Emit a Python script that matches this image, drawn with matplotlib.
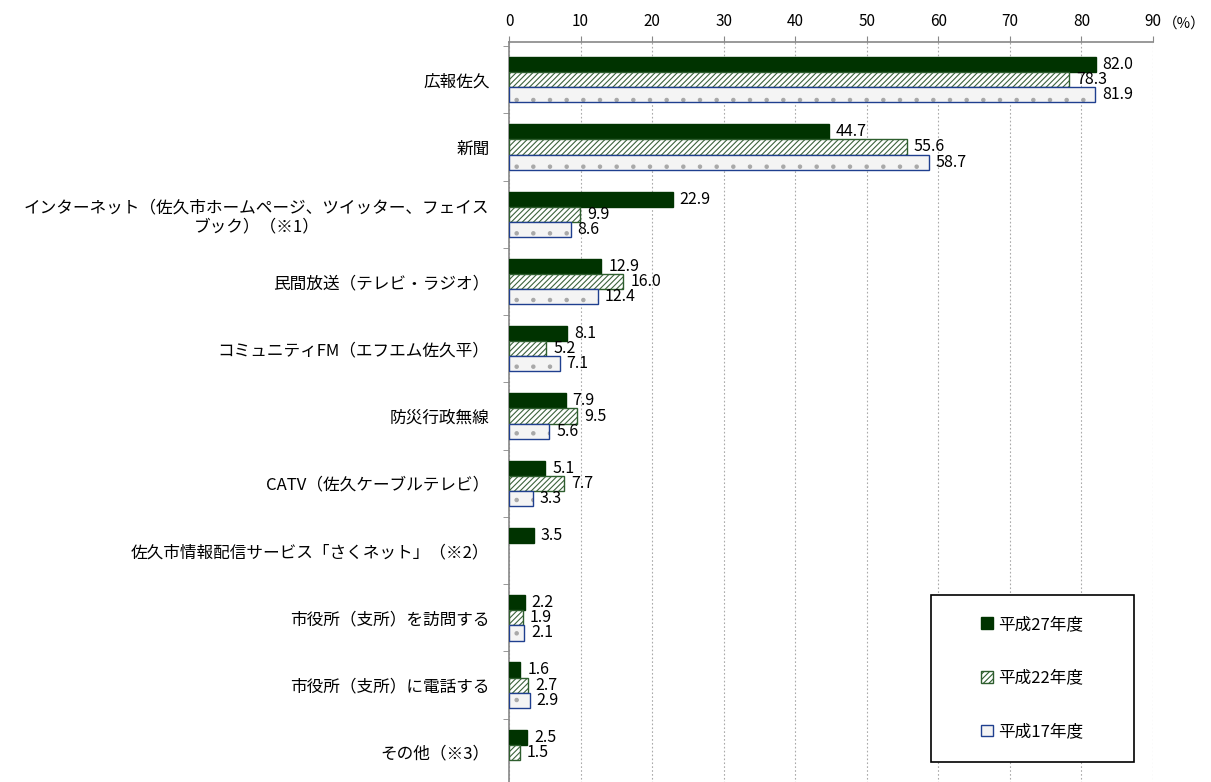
import numpy as np
import matplotlib
matplotlib.use("Agg")
import matplotlib.pyplot as plt
from matplotlib.patches import Patch, Rectangle

plt.rcParams['font.family'] = ['Noto Sans CJK JP', 'DejaVu Sans']
plt.rcParams['hatch.linewidth'] = 0.8

categories = [
    "広報佐久",
    "新聞",
    "インターネット（佐久市ホームページ、ツイッター、フェイス\nブック）（※1）",
    "民間放送（テレビ・ラジオ）",
    "コミュニティFM（エフエム佐久平）",
    "防災行政無線",
    "CATV（佐久ケーブルテレビ）",
    "佐久市情報配信サービス「さくネット」（※2）",
    "市役所（支所）を訪問する",
    "市役所（支所）に電話する",
    "その他（※3）",
]
h27 = [82.0, 44.7, 22.9, 12.9, 8.1, 7.9, 5.1, 3.5, 2.2, 1.6, 2.5]
h22 = [78.3, 55.6, 9.9, 16.0, 5.2, 9.5, 7.7, None, 1.9, 2.7, 1.5]
h17 = [81.9, 58.7, 8.6, 12.4, 7.1, 5.6, 3.3, None, 2.1, 2.9, None]
series_names = ["平成27年度", "平成22年度", "平成17年度"]

# fill, hatch colour, hatch, outline
styles = [
    dict(face="#003300", hcol="#003300", hatch=None, edge="#003300"),
    dict(face="white", hcol="#3D633D", hatch="//////", edge="#2E5E2E"),
    dict(face="#F4F4F4", hcol="#A8A8A8", hatch=".", edge="#1F3F8F"),
]

W, H = 1211, 782
fig = plt.figure(figsize=(W / 100, H / 100), dpi=100)
# plot area: x 509..1153 px, y 42..786 px
ax = fig.add_axes([509 / W, 1 - 786 / H, (1153 - 509) / W, (786 - 42) / H])

n = len(categories)
y = np.arange(n)
bh = 0.225
offsets = [-bh, 0, bh]

for vals, off, st in zip((h27, h22, h17), offsets, styles):
    for i, v in enumerate(vals):
        if v is None:
            continue
        # fill + hatch, then outline on top so hatch colour differs from edge
        ax.barh(y[i] + off, v, height=bh, facecolor=st["face"],
                edgecolor=st["hcol"], hatch=st["hatch"], linewidth=0, zorder=3)
        ax.barh(y[i] + off, v, height=bh, facecolor="none",
                edgecolor=st["edge"], linewidth=1.0, zorder=3)
        ax.annotate(f"{v:.1f}", (v, y[i] + off), xytext=(5, 0),
                    textcoords="offset points", va="center", ha="left",
                    fontsize=11.5, zorder=4)

ax.set_ylim(n - 0.5, -0.56)
ax.set_xlim(0, 90)
ax.set_xticks(np.arange(0, 91, 10))
ax.xaxis.tick_top()
ax.tick_params(axis="x", direction="out", length=4, color="#888888",
               labelsize=11, pad=5)
ax.grid(axis="x", linestyle=(0, (1.5, 2)), color="#AAAAAA", linewidth=0.8, zorder=0)

ax.set_yticks(y)
ax.set_yticklabels(categories, fontsize=12, multialignment="center")
ax.tick_params(axis="y", length=0, pad=14)
ax.set_yticks(np.arange(-0.5, n, 1), minor=True)
ax.tick_params(axis="y", which="minor", length=4, color="#888888")

for s in ("right", "bottom"):
    ax.spines[s].set_visible(False)
for s in ("top", "left"):
    ax.spines[s].set_color("#888888")
    ax.spines[s].set_linewidth(1.2)

fig.text(1206 / W, 1 - 24 / H, "（%）", fontsize=10.5, ha="right", va="center")

# legend box 931..1134 x 595..762 px
fig.patches.append(Rectangle((931 / W, 1 - 762 / H), 203 / W, 167 / H,
                             transform=fig.transFigure, facecolor="white",
                             edgecolor="black", linewidth=1.2, zorder=5))
leg_hatch = [None, "//////", None]
handles = [Patch(facecolor=st["face"], edgecolor=st["edge"], hatch=h)
           for st, h in zip(styles, leg_hatch)]
leg = fig.legend(handles, series_names, loc="center",
                 bbox_to_anchor=(1032 / W, 1 - 678 / H),
                 fontsize=12, frameon=False,
                 handlelength=0.7, handleheight=0.7, handletextpad=0.3,
                 labelspacing=2.2, borderpad=0)
leg.set_zorder(6)

fig.savefig("out.png", dpi=100)
